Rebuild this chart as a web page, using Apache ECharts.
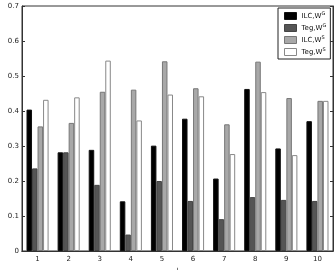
<!DOCTYPE html>
<html><head><meta charset="utf-8">
<script src="https://cdn.jsdelivr.net/npm/echarts@6/dist/echarts.min.js"></script>
<style>html,body{margin:0;padding:0;background:#fff}#c{width:335px;height:270px}</style>
</head><body><div id="c"></div>
<script>
const categories = ['1','2','3','4','5','6','7','8','9','10'];
const ilcWG = [0.404,0.282,0.289,0.142,0.301,0.378,0.207,0.463,0.293,0.371];
const tegWG = [0.236,0.282,0.189,0.047,0.200,0.143,0.091,0.154,0.146,0.143];
const ilcWS = [0.356,0.366,0.455,0.461,0.542,0.465,0.362,0.541,0.437,0.429];
const tegWS = [0.432,0.439,0.544,0.373,0.447,0.442,0.277,0.454,0.274,0.429];
const yTicks = [0,0.1,0.2,0.3,0.4,0.5,0.6,0.7];

const chart = echarts.init(document.getElementById('c'), null, {renderer:'canvas'});
const axisCol = '#333';
const font = 'DejaVu Sans';
function bar(name, data, color, border){
  return {name, type:'bar', data, barGap:'0%', barCategoryGap:'29%',
    itemStyle:{color, borderColor:border, borderWidth:1}, xAxisIndex:0, yAxisIndex:0};
}
chart.setOption({
  animation:false,
  textStyle:{fontFamily:font},
  grid:{left:22, right:2, top:6, bottom:19, containLabel:false, outerBoundsMode:'none',
    show:true, borderColor:axisCol, borderWidth:1, backgroundColor:'transparent'},
  legend:{
    orient:'vertical', left:278, top:8, padding:[3,4,3,6],
    borderColor:'#222', borderWidth:1, backgroundColor:'#fff',
    itemWidth:12, itemHeight:7, itemGap:3, icon:'rect',
    itemStyle:{borderWidth:1},
    textStyle:{fontSize:7, color:'#111', fontFamily:font,
      rich:{s:{fontSize:5, verticalAlign:'top', padding:[0,0,5,0], color:'#111'}, n:{fontSize:7,color:'#111'}}},
    formatter: function(n){ const p=n.split('|'); return '{n|'+p[0]+'}{s|'+p[1]+'}'; },
    data:['ILC,W|G','Teg,W|G','ILC,W|S','Teg,W|S']
  },
  xAxis:[{
    type:'category', data:categories, position:'bottom',
    name:'l', nameLocation:'middle', nameGap:10, nameTextStyle:{fontSize:7,color:'#222'},
    axisLine:{show:true, lineStyle:{color:axisCol}}, axisTick:{inside:true, length:3, alignWithLabel:true, lineStyle:{color:axisCol}},
    axisLabel:{fontSize:7, color:'#222', margin:5}
  },{
    type:'category', data:categories, position:'top',
    axisLine:{show:true, lineStyle:{color:axisCol, width:1}}, axisTick:{inside:true, length:3, alignWithLabel:true, lineStyle:{color:axisCol}},
    axisLabel:{show:false}
  }],
  yAxis:[{
    type:'value', min:0, max:0.7, interval:0.1,
    name:'P(ς)', nameLocation:'middle', nameGap:14, nameRotate:90, nameTextStyle:{fontSize:7,color:'#222'},
    axisLine:{show:true, lineStyle:{color:axisCol}}, axisTick:{show:true, inside:true, length:3, lineStyle:{color:axisCol}},
    splitLine:{show:false},
    axisLabel:{fontSize:7, color:'#222', margin:3, formatter:v=>{const t=yTicks.find(x=>Math.abs(x-v)<1e-9); return t===0?'0':t.toFixed(1);}}
  },{
    type:'value', min:0, max:0.7, interval:0.1, position:'right',
    axisLine:{show:true, lineStyle:{color:axisCol}}, axisTick:{show:true, inside:true, length:3, lineStyle:{color:axisCol}},
    splitLine:{show:false}, axisLabel:{show:false}
  }],
  series:[
    bar('ILC,W|G', ilcWG, '#000000', '#111111'),
    bar('Teg,W|G', tegWG, '#555555', '#444444'),
    bar('ILC,W|S', ilcWS, '#a8a8a8', '#777777'),
    bar('Teg,W|S', tegWS, '#ffffff', '#888888')
  ]
});
</script></body></html>
